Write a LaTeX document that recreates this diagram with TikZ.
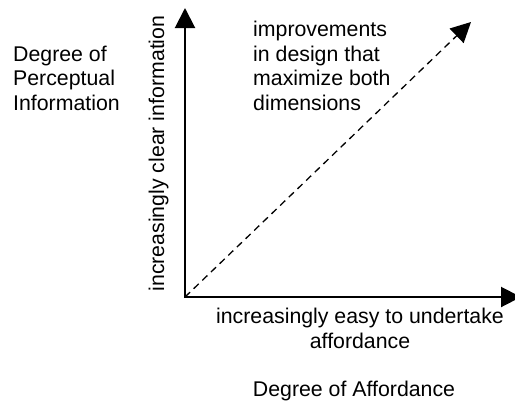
\documentclass[tikz,border=0pt]{standalone}
\usepackage{fontspec}
\setmainfont{Liberation Sans}
\usetikzlibrary{arrows.meta}
\begin{document}
\begin{tikzpicture}[x=1bp,y=1bp,
  lbl/.style={inner sep=0pt, font=\fontsize{21.3bp}{24.5bp}\selectfont},
  tip/.tip={Triangle[length=20bp,width=20bp]},
  axis/.style={line width=2bp, tip-tip},
  diag/.style={line width=1.3bp, dash pattern=on 7bp off 5bp, -tip}]
\useasboundingbox (0,0) rectangle (515,400);
\coordinate (O) at (185,103);
\coordinate (Y) at (185,392);
\coordinate (X) at (521,103);
\coordinate (D) at (471,378);
\draw[axis] (Y) -- (O) -- (X);
\draw[diag] (O) -- (D);
\node[lbl, anchor=base west, align=left] (yl) at (13,290) {Degree of\\Perceptual\\Information};
\node[lbl, anchor=base, rotate=90] (yt) at (164,246.5) {increasingly clear information};
\node[lbl, anchor=base west, align=left] (dl) at (253,290) {improvements\\in design that\\maximize both\\dimensions};
\node[lbl, anchor=base, align=center] (xt) at (360,51.7) {increasingly easy to undertake\\affordance};
\node[lbl, anchor=base] (xl) at (354,3.3) {Degree of Affordance};
\end{tikzpicture}
\end{document}
